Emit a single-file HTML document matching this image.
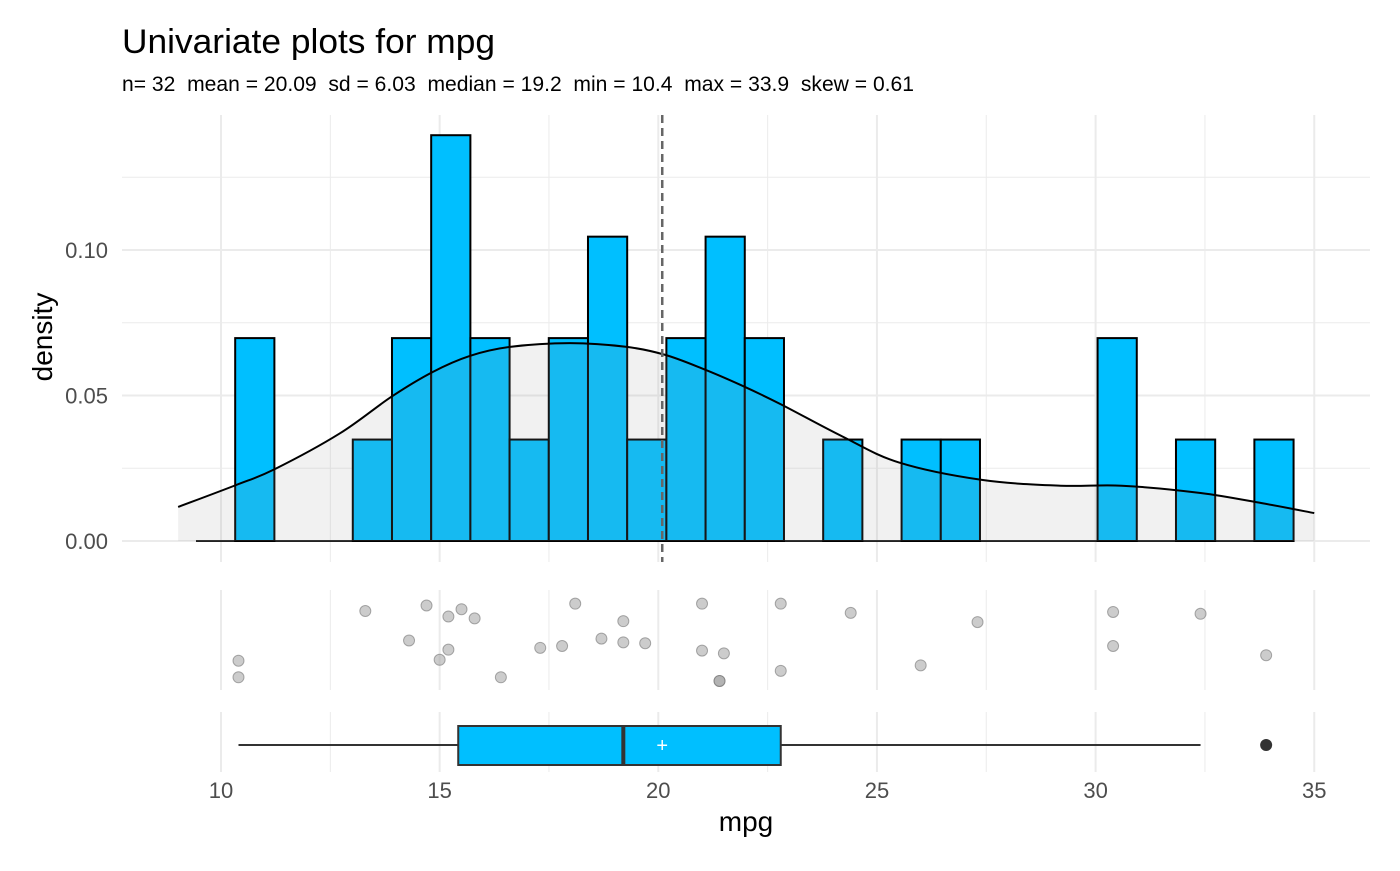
<!DOCTYPE html>
<html><head><meta charset="utf-8"><style>
body{margin:0;background:#fff;font-family:"Liberation Sans",Arial,sans-serif}
svg text{font-family:"Liberation Sans",Arial,sans-serif;white-space:pre}
</style></head><body>
<svg id="chart" width="1400" height="866" viewBox="0 0 1400 866" xmlns="http://www.w3.org/2000/svg">
<text x="122" y="53" font-size="34" fill="#000" textLength="373" lengthAdjust="spacingAndGlyphs">Univariate plots for mpg</text>
<text x="122" y="91" font-size="21" fill="#000" xml:space="preserve" textLength="792" lengthAdjust="spacingAndGlyphs">n= 32  mean = 20.09  sd = 6.03  median = 19.2  min = 10.4  max = 33.9  skew = 0.61</text>
<g id="grid"></g><g id="hist"></g><g id="jit"></g><g id="box"></g><g id="axes"></g>
</svg>
<script>
const binStart = 9.428, binWidth = 0.8964;
const binCounts = [0,2,0,0,1,2,4,2,1,2,3,1,2,3,2,0,1,0,1,1,0,0,0,2,0,1,0,1];
const densX = [9.02,10.34,11.23,12.72,13.89,14.83,15.69,16.61,17.98,19.28,20.15,21.0,21.9,22.8,24.2,25.5,27.4,29.2,30.6,32.4,33.8,35.0];
const densY = [0.0117,0.0192,0.0247,0.037,0.0495,0.058,0.0636,0.0667,0.068,0.0667,0.0640,0.0593,0.0535,0.047,0.036,0.027,0.021,0.019,0.019,0.0165,0.013,0.0096];
const mpgValues = [10.4,10.4,13.3,14.3,14.7,15.0,15.2,15.2,15.5,15.8,16.4,17.3,17.8,18.1,18.7,19.2,19.2,19.7,21.0,21.0,21.4,21.4,21.5,22.8,22.8,24.4,26.0,27.3,30.4,30.4,32.4,33.9];
const jitterFrac = [0.66,0.84,0.12,0.44,0.06,0.65,0.54,0.18,0.1,0.2,0.84,0.52,0.5,0.04,0.42,0.23,0.46,0.47,0.04,0.55,0.88,0.88,0.58,0.04,0.77,0.14,0.71,0.24,0.13,0.5,0.15,0.6];
const boxStats = {min:10.4, q1:15.425, median:19.2, q3:22.8, max:32.4, mean:20.09};
const outliers = [33.9];
const xTicks = [10,15,20,25,30,35];
const yTicks = [0,0.05,0.10];
const yTickLabels = ["0.00","0.05","0.10"];

const NS="http://www.w3.org/2000/svg";
const X=v=>221+(v-10)*43.73;
const Y=d=>541-d*2910;
function mk(p,t,a){const e=document.createElementNS(NS,t);for(const k in a)e.setAttribute(k,a[k]);document.getElementById(p).appendChild(e);return e;}
for(let v=10;v<=35;v+=2.5){const major=v%5===0;
 [[115,562],[590,690],[712,772]].forEach(([a,b])=>{const l=mk('grid','line',{x1:X(v),x2:X(v),y1:a,y2:b,stroke:'#ebebeb','stroke-width':major?2:1});
 
 });}
for(let d=0;d<=0.125;d+=0.025){const major=Math.round(d*1000)%50===0;
 const l=mk('grid','line',{x1:122,x2:1370,y1:Y(d),y2:Y(d),stroke:'#ebebeb','stroke-width':major?2:1});
 
 }
const den=c=>c/(32*binWidth);
let baseL=mk('hist','line',{x1:X(binStart),x2:X(binStart+binWidth*binCounts.length),y1:Y(0),y2:Y(0),stroke:'#222','stroke-width':2});


binCounts.forEach((c,i)=>{if(!c)return;const x0=X(binStart+i*binWidth),x1=X(binStart+(i+1)*binWidth);
 const r=mk('hist','rect',{x:x0,y:Y(den(c)),width:x1-x0,height:Y(0)-Y(den(c)),fill:'#00bfff',stroke:'#000','stroke-width':2});
 
 });
let pts=densX.map((x,i)=>[X(x),Y(densY[i])]);
function smooth(p){let d='M'+p[0][0]+','+p[0][1];for(let i=0;i<p.length-1;i++){const p0=p[i-1]||p[i],p1=p[i],p2=p[i+1],p3=p[i+2]||p2;
 d+=` C${p1[0]+(p2[0]-p0[0])/6},${p1[1]+(p2[1]-p0[1])/6} ${p2[0]-(p3[0]-p1[0])/6},${p2[1]-(p3[1]-p1[1])/6} ${p2[0]},${p2[1]}`;}return d;}
const cd=smooth(pts);
const fillP=mk('hist','path',{d:cd+` L${X(densX[densX.length-1])},${Y(0)} L${X(densX[0])},${Y(0)} Z`,fill:'#999','fill-opacity':0.14,stroke:'none'});


const lineP=mk('hist','path',{d:cd,fill:'none',stroke:'#000','stroke-width':2});


const ml=mk('hist','line',{x1:X(boxStats.mean),x2:X(boxStats.mean),y1:115,y2:562,stroke:'#666','stroke-width':2.5,'stroke-dasharray':'8,5'});


mpgValues.forEach((v,i)=>{const c=mk('jit','circle',{cx:X(v),cy:600+jitterFrac[i]*92,r:5.5,fill:'#999','fill-opacity':0.5,stroke:'#777','stroke-opacity':0.6});
 
 });
const wk=mk('box','line',{x1:X(boxStats.min),x2:X(boxStats.max),y1:745,y2:745,stroke:'#333','stroke-width':2});


const bx=mk('box','rect',{x:X(boxStats.q1),y:726,width:X(boxStats.q3)-X(boxStats.q1),height:39,fill:'#00bfff',stroke:'#333','stroke-width':2});


const md=mk('box','line',{x1:X(boxStats.median),x2:X(boxStats.median),y1:726,y2:765,stroke:'#333','stroke-width':4});


const mn=mk('box','text',{x:X(boxStats.mean),y:752,'text-anchor':'middle','font-size':20,fill:'#fff'});mn.textContent='+';


outliers.forEach(v=>{const o=mk('box','circle',{cx:X(v),cy:745,r:6,fill:'#333'});
 
 });
xTicks.forEach(v=>{const t=mk('axes','text',{x:X(v),y:798,'text-anchor':'middle','font-size':22,fill:'#4d4d4d'});t.textContent=v;
 
 });
yTicks.forEach((v,i)=>{const t=mk('axes','text',{x:108,y:Y(v)+8,'text-anchor':'end','font-size':22,fill:'#4d4d4d'});t.textContent=yTickLabels[i];
 
 });
const xt=mk('axes','text',{x:746,y:831,'text-anchor':'middle','font-size':28,fill:'#000'});xt.textContent='mpg';


const yt=mk('axes','text',{x:0,y:0,transform:'translate(52,337) rotate(-90)','text-anchor':'middle','font-size':28,fill:'#000'});yt.textContent='density';


</script>
</body></html>
